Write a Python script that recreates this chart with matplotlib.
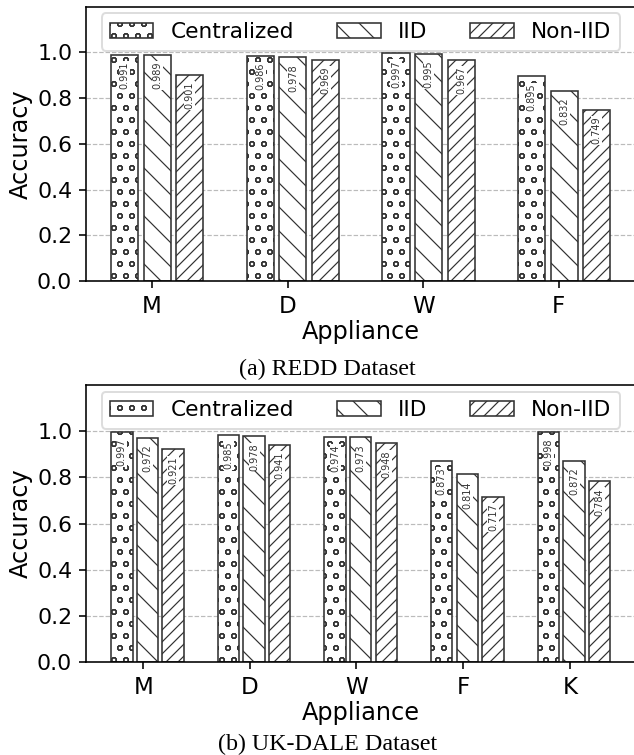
import numpy as np
import matplotlib
matplotlib.use("Agg")
import matplotlib.pyplot as plt

# accuracy per appliance
redd_apps = ['M', 'D', 'W', 'F']
redd_central = [0.991, 0.986, 0.997, 0.895]
redd_iid = [0.989, 0.978, 0.995, 0.832]
redd_noniid = [0.901, 0.969, 0.967, 0.749]

ukdale_apps = ['M', 'D', 'W', 'F', 'K']
ukdale_central = [0.997, 0.985, 0.974, 0.873, 0.998]
ukdale_iid = [0.972, 0.978, 0.973, 0.814, 0.872]
ukdale_noniid = [0.921, 0.941, 0.948, 0.717, 0.784]

series_names = ['Centralized', 'IID', 'Non-IID']
hatches = ['oo', '\\\\', '////']

plt.rcParams['hatch.linewidth'] = 0.6
plt.rcParams['font.family'] = 'DejaVu Sans'

fig = plt.figure(figsize=(634 / 144, 755 / 144), dpi=144)
ax1 = fig.add_axes([0.136, 0.628, 0.866, 0.363])
ax2 = fig.add_axes([0.136, 0.123, 0.866, 0.367])


def draw(ax, apps, series):
    x = np.arange(len(apps))
    offsets = [-0.2, 0.04, 0.28]
    for vals, name, h, off in zip(series, series_names, hatches, offsets):
        bars = ax.bar(x + off, vals, 0.2, label=name, color='white',
                      edgecolor='#333333', linewidth=0.8, hatch=h, zorder=2)
        for b, v in zip(bars, vals):
            ax.text(b.get_x() + b.get_width() / 2, v - 0.03, f'{v:.3f}',
                    rotation=90, ha='center', va='top', fontsize=4.9,
                    color='#333333', zorder=3,
                    bbox=dict(facecolor='white', edgecolor='none', pad=0.3))
    ax.set_xticks(x)
    ax.set_xticklabels(apps, fontsize=11.5)
    ax.set_ylim(0, 1.2)
    ax.set_yticks([0.0, 0.2, 0.4, 0.6, 0.8, 1.0])
    ax.tick_params(axis='y', labelsize=11)
    ax.set_xlabel('Appliance', fontsize=12, labelpad=1)
    ax.set_ylabel('Accuracy', fontsize=12, labelpad=2)
    ax.yaxis.grid(True, linestyle='--', color='#bbbbbb', linewidth=0.6, zorder=0)
    ax.set_axisbelow(True)
    ax.legend(loc='upper center', ncol=3, fontsize=10.8, framealpha=1,
              edgecolor='#dddddd', borderaxespad=0.3)


draw(ax1, redd_apps, [redd_central, redd_iid, redd_noniid])
draw(ax2, ukdale_apps, [ukdale_central, ukdale_iid, ukdale_noniid])

fig.text(0.517, 1 - 369 / 755, '(a) REDD Dataset', ha='center', va='center',
         fontsize=12, family='Liberation Serif')
fig.text(0.517, 1 - 744 / 755, '(b) UK-DALE Dataset', ha='center', va='center',
         fontsize=12, family='Liberation Serif')

fig.savefig('out.png', dpi=144)
